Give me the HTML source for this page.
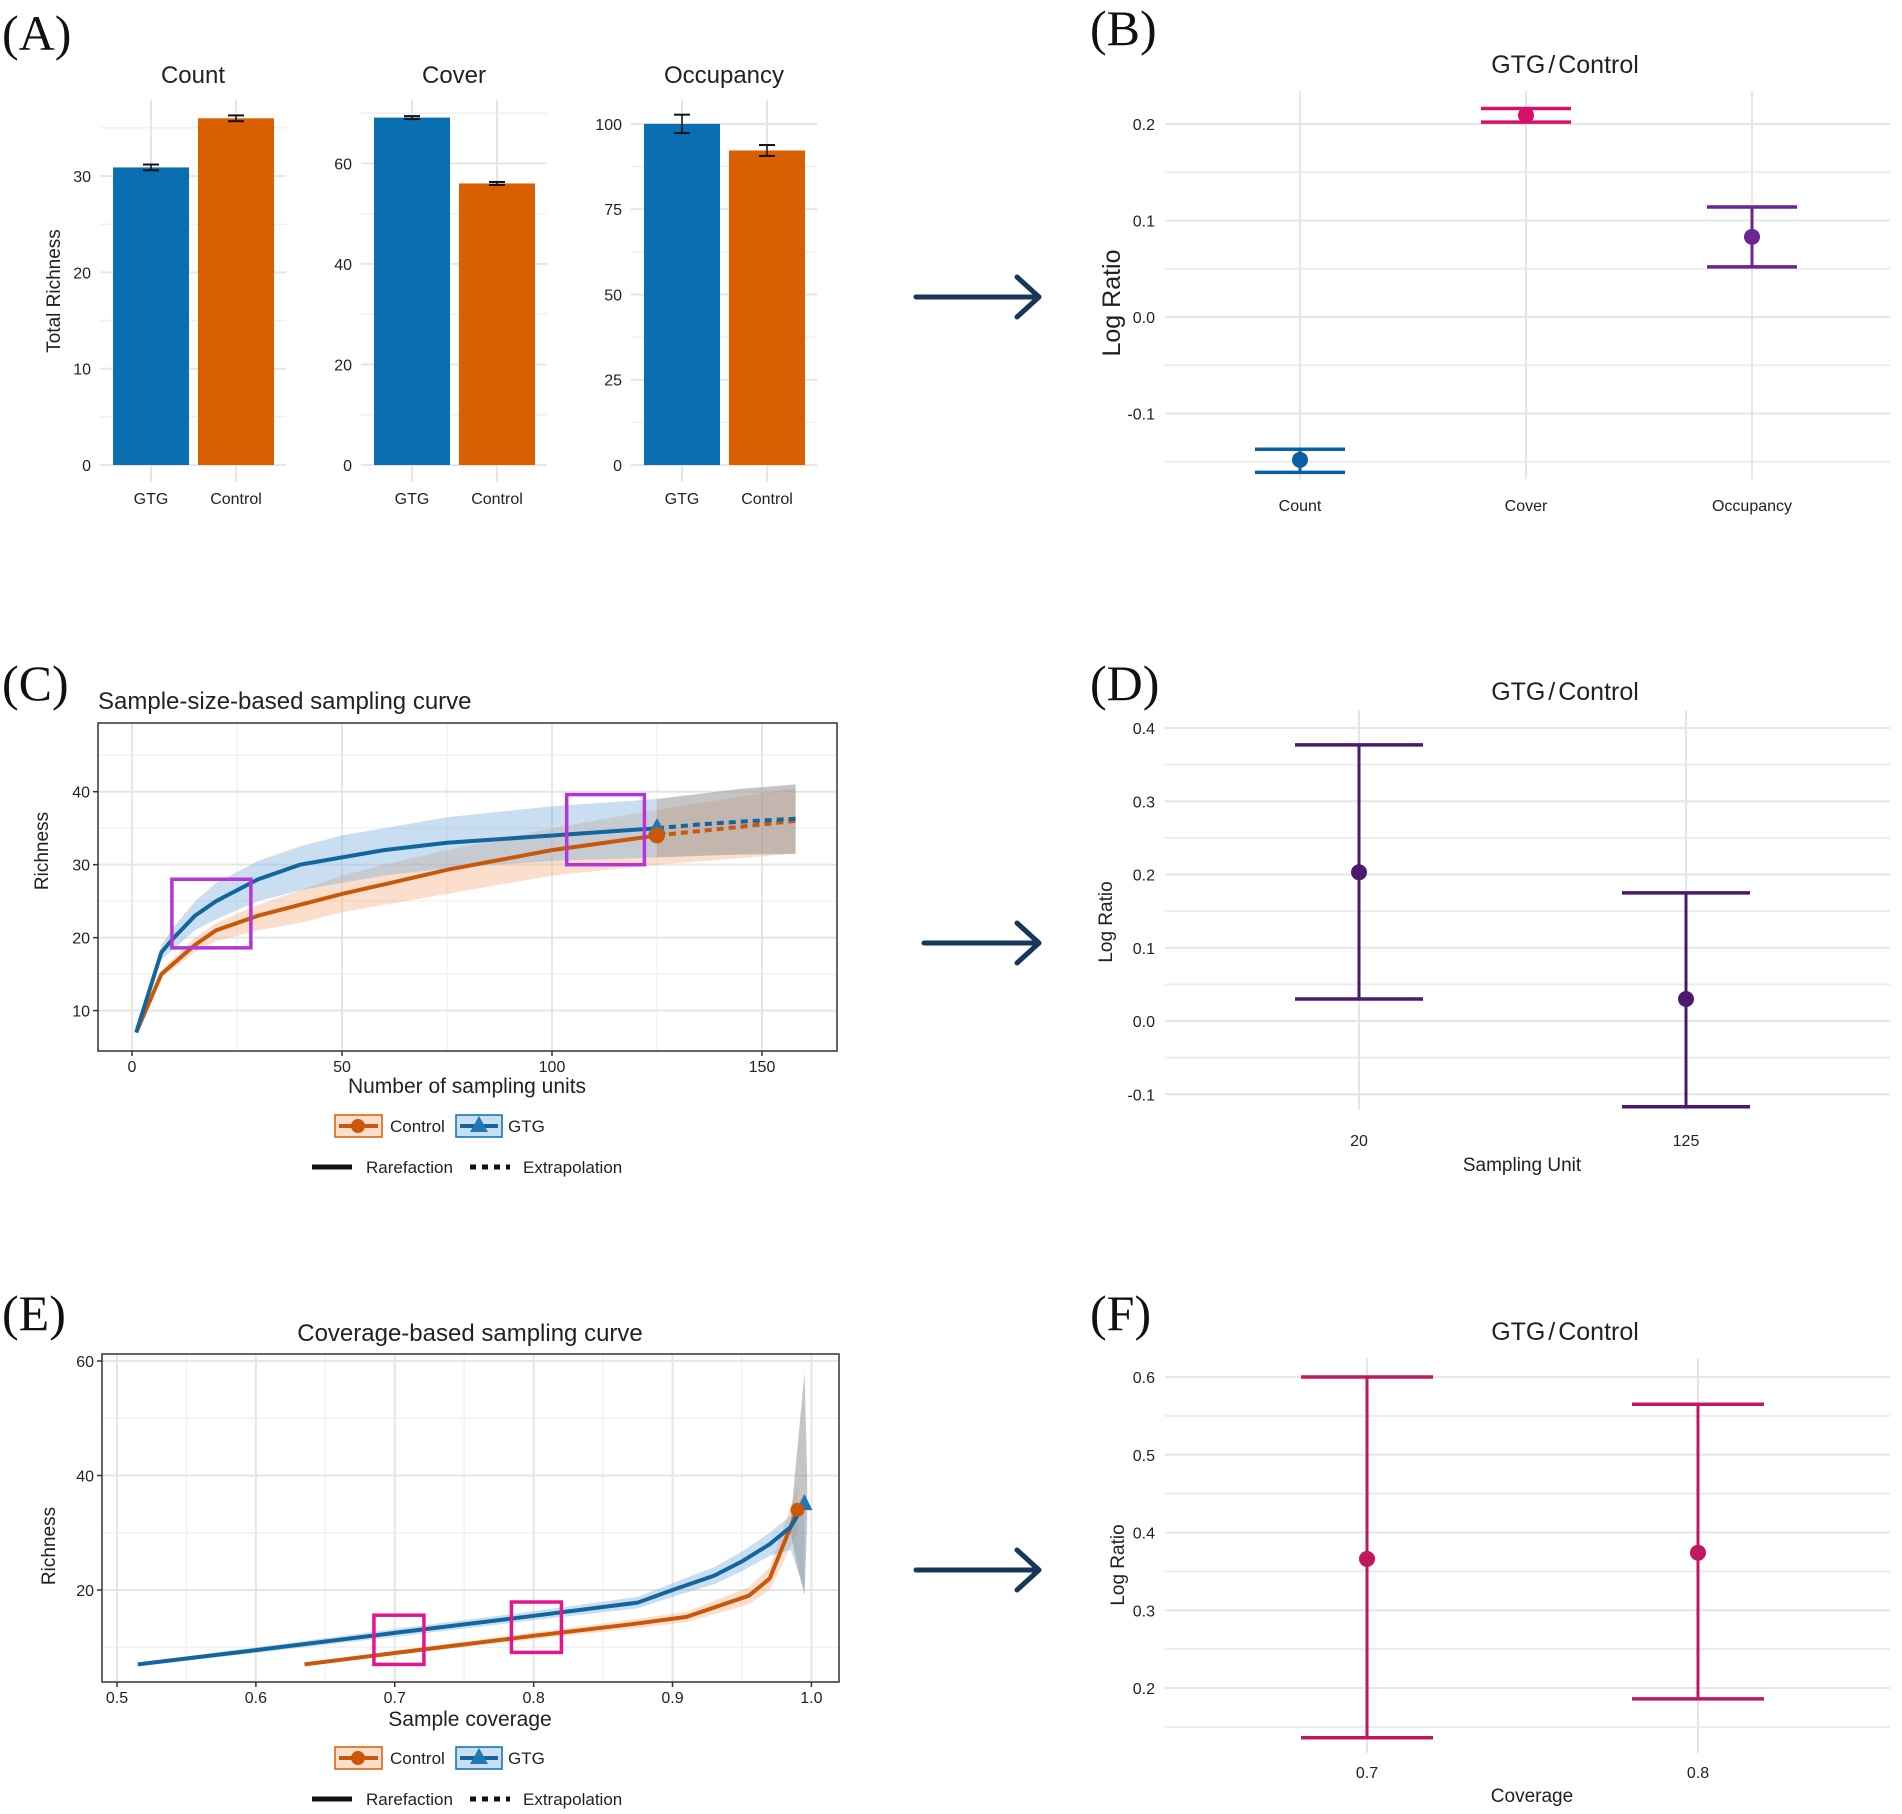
<!DOCTYPE html>
<html><head><meta charset="utf-8"><title>GTG vs Control richness</title>
<style>
html,body{margin:0;padding:0;background:#fff;}
svg{display:block;font-family:"Liberation Sans",sans-serif;}
</style></head>
<body>
<svg id="fig" xmlns="http://www.w3.org/2000/svg" width="1902" height="1814" viewBox="0 0 1902 1814"></svg>
<script>
// ---------- Panel A data ----------
const aPanels = ['Count', 'Cover', 'Occupancy'];
const aGroups = ['GTG', 'Control'];
const aGtg = [30.9, 69.1, 100];
const aCtrl = [36.0, 56, 92.2];
const aGtgErr = [0.3, 0.3, 2.7];
const aCtrlErr = [0.3, 0.3, 1.6];
const aTicks = [[0, 10, 20, 30], [0, 20, 40, 60], [0, 25, 50, 75, 100]];
const aMinor = [[5, 15, 25, 35], [10, 30, 50, 70], [12.5, 37.5, 62.5, 87.5]];
const aMax = [37.9, 72.6, 107];
// ---------- Panel B data ----------
const bCats = ['Count', 'Cover', 'Occupancy'];
const bVals = [-0.148, 0.209, 0.083];
const bLo = [-0.161, 0.202, 0.052];
const bHi = [-0.137, 0.216, 0.114];
const bTicks = [-0.1, 0.0, 0.1, 0.2];
const bTickLabels = ['-0.1', '0.0', '0.1', '0.2'];
// ---------- Panel C data ----------
const cGtgX = [1, 7, 10, 15, 20, 30, 40, 50, 60, 75, 100, 125];
const cGtgY = [7, 18, 20, 23, 25, 28, 30, 31, 32, 33, 34, 35];
const cGtgLo = [7, 17, 18.5, 21, 22.5, 25, 26.5, 27.5, 28.5, 29.5, 30.5, 31];
const cGtgHi = [7, 19, 21.5, 25, 27.5, 30.5, 32.5, 34, 35, 36.5, 38, 39];
const cGtgExX = [125, 135, 145, 158];
const cGtgExY = [35, 35.5, 35.9, 36.3];
const cGtgExLo = [31, 31.2, 31.4, 31.5];
const cGtgExHi = [39, 39.7, 40.4, 41];
const cCtlX = [1, 7, 15, 20, 30, 40, 50, 60, 75, 100, 125];
const cCtlY = [7, 15, 19, 21, 23, 24.5, 26, 27.3, 29.3, 32, 34];
const cCtlLo = [7, 14.5, 18, 19.5, 21, 22, 23.5, 24.5, 26, 28.5, 30];
const cCtlHi = [7, 15.5, 20, 22, 24.5, 26.5, 28.5, 30, 32, 35, 37.5];
const cCtlExX = [125, 158];
const cCtlExY = [34, 36];
const cCtlExLo = [30, 31.5];
const cCtlExHi = [37.5, 40.5];
const cXTicks = [0, 50, 100, 150];
const cYTicks = [10, 20, 30, 40];
const cBoxX0 = [9.5, 103.5];
const cBoxX1 = [28.3, 122];
const cBoxY0 = [18.6, 30];
const cBoxY1 = [28, 39.6];
// ---------- Panel D data ----------
const dCats = ['20', '125'];
const dVals = [0.203, 0.03];
const dLo = [0.03, -0.117];
const dHi = [0.377, 0.175];
const dTicks = [-0.1, 0.0, 0.1, 0.2, 0.3, 0.4];
const dTickLabels = ['-0.1', '0.0', '0.1', '0.2', '0.3', '0.4'];
// ---------- Panel E data ----------
const eGtgX = [0.515, 0.6, 0.7, 0.8, 0.875, 0.9, 0.93, 0.95, 0.97, 0.985, 0.995];
const eGtgY = [7, 9.5, 12.5, 15.5, 17.8, 20, 22.5, 25, 28, 31, 35];
const eGtgLo = [6.7, 9, 11.8, 14.7, 16.8, 18.8, 21, 23.3, 26, 27, 20];
const eGtgHi = [7.3, 10, 13.2, 16.3, 18.8, 21.2, 24, 26.7, 30, 33, 37];
const eCtlX = [0.635, 0.7, 0.8, 0.87, 0.91, 0.955, 0.97, 0.98, 0.99];
const eCtlY = [7, 9, 12, 14, 15.3, 19, 22, 28, 34];
const eCtlLo = [6.8, 8.6, 11.4, 13.2, 14.4, 17.5, 20, 25, 30];
const eCtlHi = [7.2, 9.4, 12.6, 14.8, 16.2, 20.5, 24, 31, 38];
const eExX = [0.985, 0.99, 0.995, 0.997];
const eExLo = [30, 24, 19, 32];
const eExHi = [32, 45, 58, 40];
const eXTicks = [0.5, 0.6, 0.7, 0.8, 0.9, 1.0];
const eXTickLabels = ['0.5', '0.6', '0.7', '0.8', '0.9', '1.0'];
const eYTicks = [20, 40, 60];
const eBoxX0 = [0.685, 0.784];
const eBoxX1 = [0.721, 0.82];
const eBoxY0 = [7.0, 9.1];
const eBoxY1 = [15.6, 17.9];
// ---------- Panel F data ----------
const fCats = ['0.7', '0.8'];
const fVals = [0.366, 0.374];
const fLo = [0.136, 0.186];
const fHi = [0.6, 0.565];
const fTicks = [0.2, 0.3, 0.4, 0.5, 0.6];
const fTickLabels = ['0.2', '0.3', '0.4', '0.5', '0.6'];

const NS = 'http://www.w3.org/2000/svg';
const svg = document.getElementById('fig');
const BLUE = '#0a6fb0', ORANGE = '#d95f02', GRID = '#e6e6e6';
function lin(d0, d1, r0, r1) { return v => r0 + (v - d0) * (r1 - r0) / (d1 - d0); }
function el(tag, attrs, name) {
  const e = document.createElementNS(NS, tag);
  for (const k in attrs) e.setAttribute(k, attrs[k]);
  
  
  svg.appendChild(e);
  return e;
}
function txt(x, y, s, size, anchor, name, extra) {
  const a = Object.assign({x: x, y: y, 'font-size': size, 'text-anchor': anchor || 'middle', fill: '#222'}, extra || {});
  const t = el('text', a, name);
  t.textContent = s;
  return t;
}
function line(x1, y1, x2, y2, stroke, w, name, extra) {
  return el('line', Object.assign({x1: x1, y1: y1, x2: x2, y2: y2, stroke: stroke, 'stroke-width': w}, extra || {}), name);
}
function pathFrom(xs, ys, sx, sy) {
  return xs.map((x, i) => (i ? 'L' : 'M') + sx(x).toFixed(1) + ',' + sy(ys[i]).toFixed(1)).join(' ');
}
function bandFrom(xs, lo, hi, sx, sy) {
  let d = xs.map((x, i) => (i ? 'L' : 'M') + sx(x).toFixed(1) + ',' + sy(hi[i]).toFixed(1)).join(' ');
  for (let i = xs.length - 1; i >= 0; i--) d += ' L' + sx(xs[i]).toFixed(1) + ',' + sy(lo[i]).toFixed(1);
  return d + ' Z';
}
function panelLabel(x, y, s, name) {
  txt(x, y, s, 50, 'start', name, {'font-family': '"Liberation Serif",serif', fill: '#111'});
}
function arrow(x1, x2, y, name) {
  const g = el('g', {}, name);
  const l = document.createElementNS(NS, 'path');
  l.setAttribute('d', `M${x1},${y} L${x2},${y} M${x2 - 22},${y - 20} L${x2},${y} L${x2 - 22},${y + 20}`);
  l.setAttribute('stroke', '#17365a');
  l.setAttribute('stroke-width', 5);
  l.setAttribute('fill', 'none');
  l.setAttribute('stroke-linecap', 'round');
  l.setAttribute('stroke-linejoin', 'round');
  
  
  g.appendChild(l);
}

// ================= Panel A =================
panelLabel(2, 50, '(A)', 'panel-label-a');
const aGridX0 = [100, 361, 631];
aPanels.forEach((p, i) => {
  const gx = aGridX0[i], gw = 186;
  const sy = lin(0, aMax[i], 465, 100);
  aMinor[i].forEach(t => { if (t <= aMax[i]) line(gx, sy(t), gx + gw, sy(t), '#f0f0f0', 1.5, 'minor-gridline'); });
  aTicks[i].forEach(t => {
    line(gx, sy(t), gx + gw, sy(t), GRID, 2, 'major-gridline');
    txt(gx - 9, sy(t) + 6, String(t), 16, 'end', 'y-tick-label');
  });
  const cx = [gx + 51, gx + 136];
  cx.forEach(c => line(c, 100, c, 482, GRID, 2, 'vertical-gridline'));
  txt(gx + 93, 83, p, 24, 'middle', 'facet-title-' + p.toLowerCase());
  const vals = [aGtg[i], aCtrl[i]], errs = [aGtgErr[i], aCtrlErr[i]], cols = [BLUE, ORANGE];
  vals.forEach((v, j) => {
    el('rect', {x: cx[j] - 38, y: sy(v), width: 76, height: 465 - sy(v), fill: cols[j]}, 'bar-' + p.toLowerCase() + '-' + aGroups[j].toLowerCase());
    const y1 = sy(v + errs[j]), y2 = sy(v - errs[j]);
    line(cx[j], y1, cx[j], y2, '#111', 1.5, 'error-bar');
    line(cx[j] - 8, y1, cx[j] + 8, y1, '#111', 2, 'error-cap');
    line(cx[j] - 8, y2, cx[j] + 8, y2, '#111', 2, 'error-cap');
    txt(cx[j], 504, aGroups[j], 16, 'middle', 'x-tick-label');
  });
});
txt(60, 291, 'Total Richness', 19, 'middle', 'y-axis-title', {transform: 'rotate(-90 60 291)'});
arrow(916, 1039, 297, 'arrow-a-to-b');

// ============ generic log-ratio dot plot ============
function dotPanel(o) {
  const sy = lin(o.d0, o.d1, o.r0, o.r1);
  const sx = i => o.catX[i];
  o.minor.forEach(t => line(1165, sy(t), 1890, sy(t), '#ececec', 2, 'minor-gridline'));
  o.ticks.forEach((t, i) => {
    line(1165, sy(t), 1890, sy(t), GRID, 2, 'major-gridline');
    txt(1155, sy(t) + 6, o.tickLabels[i], 16, 'end', 'y-tick-label');
  });
  o.cats.forEach((c, i) => {
    line(sx(i), o.top, sx(i), o.bottom, GRID, 2, 'vertical-gridline');
    txt(sx(i), o.labelY, c, 16, 'middle', 'x-tick-label');
  });
  o.vals.forEach((v, i) => {
    const col = o.colors[i];
    line(sx(i), sy(o.hi[i]), sx(i), sy(o.lo[i]), col, 3, 'error-bar');
    line(sx(i) - o.cap, sy(o.hi[i]), sx(i) + o.cap, sy(o.hi[i]), col, 3.5, 'error-cap-upper');
    line(sx(i) - o.cap, sy(o.lo[i]), sx(i) + o.cap, sy(o.lo[i]), col, 3.5, 'error-cap-lower');
    el('circle', {cx: sx(i), cy: sy(v), r: 8, fill: col}, 'point-' + o.cats[i]);
  });
  txt(1565, o.titleY, 'GTG / Control', 25, 'middle', 'plot-title', {'word-spacing': '-4'});
  txt(o.ylabX, o.ylabY, 'Log Ratio', o.ylabSize, 'middle', 'y-axis-title', {transform: `rotate(-90 ${o.ylabX} ${o.ylabY})`});
  if (o.xtitle) txt(o.xtitleX, o.xtitleY, o.xtitle, 19, 'middle', 'x-axis-title');
}

// ================= Panel B =================
panelLabel(1090, 45, '(B)', 'panel-label-b');
dotPanel({d0: 0, d1: 0.2, r0: 317, r1: 124, ticks: bTicks, tickLabels: bTickLabels, minor: [-0.15, -0.05, 0.05, 0.15],
  cats: bCats, catX: [1300, 1526, 1752], vals: bVals, lo: bLo, hi: bHi, colors: ['#0a5fa3', '#d6106a', '#6a2590'],
  top: 91, bottom: 479, labelY: 511, cap: 45, titleY: 73, ylabX: 1120, ylabY: 303, ylabSize: 25});
arrow(924, 1039, 943, 'arrow-c-to-d');

// ================= Panel C =================
panelLabel(2, 700, '(C)', 'panel-label-c');
(function () {
  const sx = lin(0, 150, 132, 762), sy = lin(10, 40, 1010.6, 791.7);
  const X0 = 98, X1 = 837, Y0 = 723, Y1 = 1051;
  [25, 75, 125].forEach(t => line(sx(t), Y0, sx(t), Y1, '#f2f2f2', 1.5, 'minor-gridline'));
  [15, 25, 35, 45].forEach(t => line(X0, sy(t), X1, sy(t), '#f2f2f2', 1.5, 'minor-gridline'));
  cXTicks.forEach(t => {
    line(sx(t), Y0, sx(t), Y1, GRID, 2, 'major-gridline');
    line(sx(t), Y1, sx(t), Y1 + 5, '#333', 1.5, 'x-tick');
    txt(sx(t), Y1 + 21, String(t), 16, 'middle', 'x-tick-label');
  });
  cYTicks.forEach(t => {
    line(X0, sy(t), X1, sy(t), GRID, 2, 'major-gridline');
    line(X0 - 5, sy(t), X0, sy(t), '#333', 1.5, 'y-tick');
    txt(X0 - 8, sy(t) + 6, String(t), 16, 'end', 'y-tick-label');
  });
  el('path', {d: bandFrom(cCtlX, cCtlLo, cCtlHi, sx, sy), fill: 'rgba(243,160,110,0.35)'}, 'control-band');
  el('path', {d: bandFrom(cGtgX, cGtgLo, cGtgHi, sx, sy), fill: 'rgba(120,175,220,0.4)'}, 'gtg-band');
  el('path', {d: bandFrom(cCtlExX, cCtlExLo, cCtlExHi, sx, sy), fill: 'rgba(243,160,110,0.35)'}, 'control-extrap-band');
  el('path', {d: bandFrom(cGtgExX, cGtgExLo, cGtgExHi, sx, sy), fill: 'rgba(150,150,150,0.55)'}, 'gtg-extrap-band');
  el('path', {d: pathFrom(cCtlX, cCtlY, sx, sy), stroke: '#c9580a', 'stroke-width': 4, fill: 'none'}, 'control-rarefaction-line');
  el('path', {d: pathFrom(cGtgX, cGtgY, sx, sy), stroke: '#13659e', 'stroke-width': 4, fill: 'none'}, 'gtg-rarefaction-line');
  el('path', {d: pathFrom(cCtlExX, cCtlExY, sx, sy), stroke: '#c9580a', 'stroke-width': 4, fill: 'none', 'stroke-dasharray': '7 5'}, 'control-extrapolation-line');
  el('path', {d: pathFrom(cGtgExX, cGtgExY, sx, sy), stroke: '#13659e', 'stroke-width': 4, fill: 'none', 'stroke-dasharray': '7 5'}, 'gtg-extrapolation-line');
  const gx = sx(cGtgX[cGtgX.length - 1]), gy = sy(cGtgY[cGtgY.length - 1]);
  el('path', {d: `M${gx},${gy - 10} L${gx + 9},${gy + 6} L${gx - 9},${gy + 6} Z`, fill: '#1f77b4'}, 'gtg-observed-marker');
  el('circle', {cx: sx(cCtlX[cCtlX.length - 1]), cy: sy(cCtlY[cCtlY.length - 1]), r: 8, fill: '#c9580a'}, 'control-observed-marker');
  cBoxX0.forEach((b, i) => {
    el('rect', {x: sx(b), y: sy(cBoxY1[i]), width: sx(cBoxX1[i]) - sx(b), height: sy(cBoxY0[i]) - sy(cBoxY1[i]), fill: 'none', stroke: '#b535d6', 'stroke-width': 3.5}, 'highlight-box');
  });
  el('rect', {x: X0, y: Y0, width: X1 - X0, height: Y1 - Y0, fill: 'none', stroke: '#333', 'stroke-width': 1.5}, 'plot-border');
  txt(X0, 709, 'Sample-size-based sampling curve', 24, 'start', 'plot-title');
  txt(48, 851, 'Richness', 19, 'middle', 'y-axis-title', {transform: 'rotate(-90 48 851)'});
  txt(467, 1093, 'Number of sampling units', 21, 'middle', 'x-axis-title');
  legend(1126, 1167);
})();

function legend(y1, y2) {
  el('rect', {x: 335, y: y1 - 11, width: 47, height: 22, fill: 'rgba(243,160,110,0.35)', stroke: ORANGE, 'stroke-width': 1.5}, 'legend-key-control');
  line(339, y1, 378, y1, '#c9580a', 4, 'legend-line-control');
  el('circle', {cx: 358, cy: y1, r: 7, fill: '#c9580a'}, 'legend-marker-control');
  txt(390, y1 + 6, 'Control', 17, 'start', 'legend-label-control');
  el('rect', {x: 456, y: y1 - 11, width: 46, height: 22, fill: 'rgba(120,175,220,0.4)', stroke: BLUE, 'stroke-width': 1.5}, 'legend-key-gtg');
  line(460, y1, 498, y1, '#13659e', 4, 'legend-line-gtg');
  el('path', {d: `M479,${y1 - 10} L488,${y1 + 6} L470,${y1 + 6} Z`, fill: '#1f77b4'}, 'legend-marker-gtg');
  txt(508, y1 + 6, 'GTG', 17, 'start', 'legend-label-gtg');
  line(312, y2, 352, y2, '#111', 5, 'legend-line-rarefaction');
  txt(366, y2 + 6, 'Rarefaction', 17, 'start', 'legend-label-rarefaction');
  line(470, y2, 510, y2, '#111', 5, 'legend-line-extrapolation', {'stroke-dasharray': '6 6'});
  txt(523, y2 + 6, 'Extrapolation', 17, 'start', 'legend-label-extrapolation');
}

// ================= Panel D =================
panelLabel(1090, 700, '(D)', 'panel-label-d');
dotPanel({d0: 0, d1: 0.4, r0: 1021, r1: 728, ticks: dTicks, tickLabels: dTickLabels, minor: [-0.05, 0.05, 0.15, 0.25, 0.35],
  cats: dCats, catX: [1359, 1686], vals: dVals, lo: dLo, hi: dHi, colors: ['#4b1a6e', '#4b1a6e'],
  top: 710, bottom: 1110, labelY: 1146, cap: 64, titleY: 700, ylabX: 1112, ylabY: 922, ylabSize: 19,
  xtitle: 'Sampling Unit', xtitleX: 1522, xtitleY: 1171});
arrow(916, 1039, 1570, 'arrow-e-to-f');

// ================= Panel E =================
panelLabel(2, 1330, '(E)', 'panel-label-e');
(function () {
  const sx = lin(0.5, 1.0, 117, 811.4), sy = lin(20, 60, 1590, 1361);
  const X0 = 102, X1 = 839, Y0 = 1354, Y1 = 1682;
  [0.55, 0.65, 0.75, 0.85, 0.95].forEach(t => line(sx(t), Y0, sx(t), Y1, '#f2f2f2', 1.5, 'minor-gridline'));
  [10, 30, 50].forEach(t => line(X0, sy(t), X1, sy(t), '#f2f2f2', 1.5, 'minor-gridline'));
  eXTicks.forEach((t, i) => {
    line(sx(t), Y0, sx(t), Y1, GRID, 2, 'major-gridline');
    line(sx(t), Y1, sx(t), Y1 + 5, '#333', 1.5, 'x-tick');
    txt(sx(t), Y1 + 21, eXTickLabels[i], 16, 'middle', 'x-tick-label');
  });
  eYTicks.forEach(t => {
    line(X0, sy(t), X1, sy(t), GRID, 2, 'major-gridline');
    line(X0 - 5, sy(t), X0, sy(t), '#333', 1.5, 'y-tick');
    txt(X0 - 8, sy(t) + 6, String(t), 16, 'end', 'y-tick-label');
  });
  el('path', {d: bandFrom(eCtlX, eCtlLo, eCtlHi, sx, sy), fill: 'rgba(243,160,110,0.35)'}, 'control-band');
  el('path', {d: bandFrom(eGtgX, eGtgLo, eGtgHi, sx, sy), fill: 'rgba(120,175,220,0.4)'}, 'gtg-band');
  el('path', {d: bandFrom(eExX, eExLo, eExHi, sx, sy), fill: 'rgba(150,150,150,0.55)'}, 'extrap-band');
  el('path', {d: pathFrom(eCtlX, eCtlY, sx, sy), stroke: '#c9580a', 'stroke-width': 4, fill: 'none'}, 'control-rarefaction-line');
  el('path', {d: pathFrom(eGtgX, eGtgY, sx, sy), stroke: '#13659e', 'stroke-width': 4, fill: 'none'}, 'gtg-rarefaction-line');
  const gx = sx(eGtgX[eGtgX.length - 1]), gy = sy(eGtgY[eGtgY.length - 1]);
  el('path', {d: `M${gx},${gy - 10} L${gx + 8},${gy + 6} L${gx - 8},${gy + 6} Z`, fill: '#1f77b4'}, 'gtg-observed-marker');
  el('circle', {cx: sx(eCtlX[eCtlX.length - 1]), cy: sy(eCtlY[eCtlY.length - 1]), r: 7, fill: '#c9580a'}, 'control-observed-marker');
  eBoxX0.forEach((b, i) => {
    el('rect', {x: sx(b), y: sy(eBoxY1[i]), width: sx(eBoxX1[i]) - sx(b), height: sy(eBoxY0[i]) - sy(eBoxY1[i]), fill: 'none', stroke: '#e3168c', 'stroke-width': 3.5}, 'highlight-box');
  });
  el('rect', {x: X0, y: Y0, width: X1 - X0, height: Y1 - Y0, fill: 'none', stroke: '#333', 'stroke-width': 1.5}, 'plot-border');
  txt(470, 1341, 'Coverage-based sampling curve', 24, 'middle', 'plot-title');
  txt(55, 1546, 'Richness', 19, 'middle', 'y-axis-title', {transform: 'rotate(-90 55 1546)'});
  txt(470, 1726, 'Sample coverage', 21, 'middle', 'x-axis-title');
  legend(1758, 1799);
})();

// ================= Panel F =================
panelLabel(1090, 1330, '(F)', 'panel-label-f');
dotPanel({d0: 0.2, d1: 0.6, r0: 1688, r1: 1377, ticks: fTicks, tickLabels: fTickLabels, minor: [0.15, 0.25, 0.35, 0.45, 0.55],
  cats: fCats, catX: [1367, 1698], vals: fVals, lo: fLo, hi: fHi, colors: ['#c0185f', '#c0185f'],
  top: 1358, bottom: 1753, labelY: 1778, cap: 66, titleY: 1340, ylabX: 1124, ylabY: 1565, ylabSize: 19,
  xtitle: 'Coverage', xtitleX: 1532, xtitleY: 1802});
</script>
</body></html>
